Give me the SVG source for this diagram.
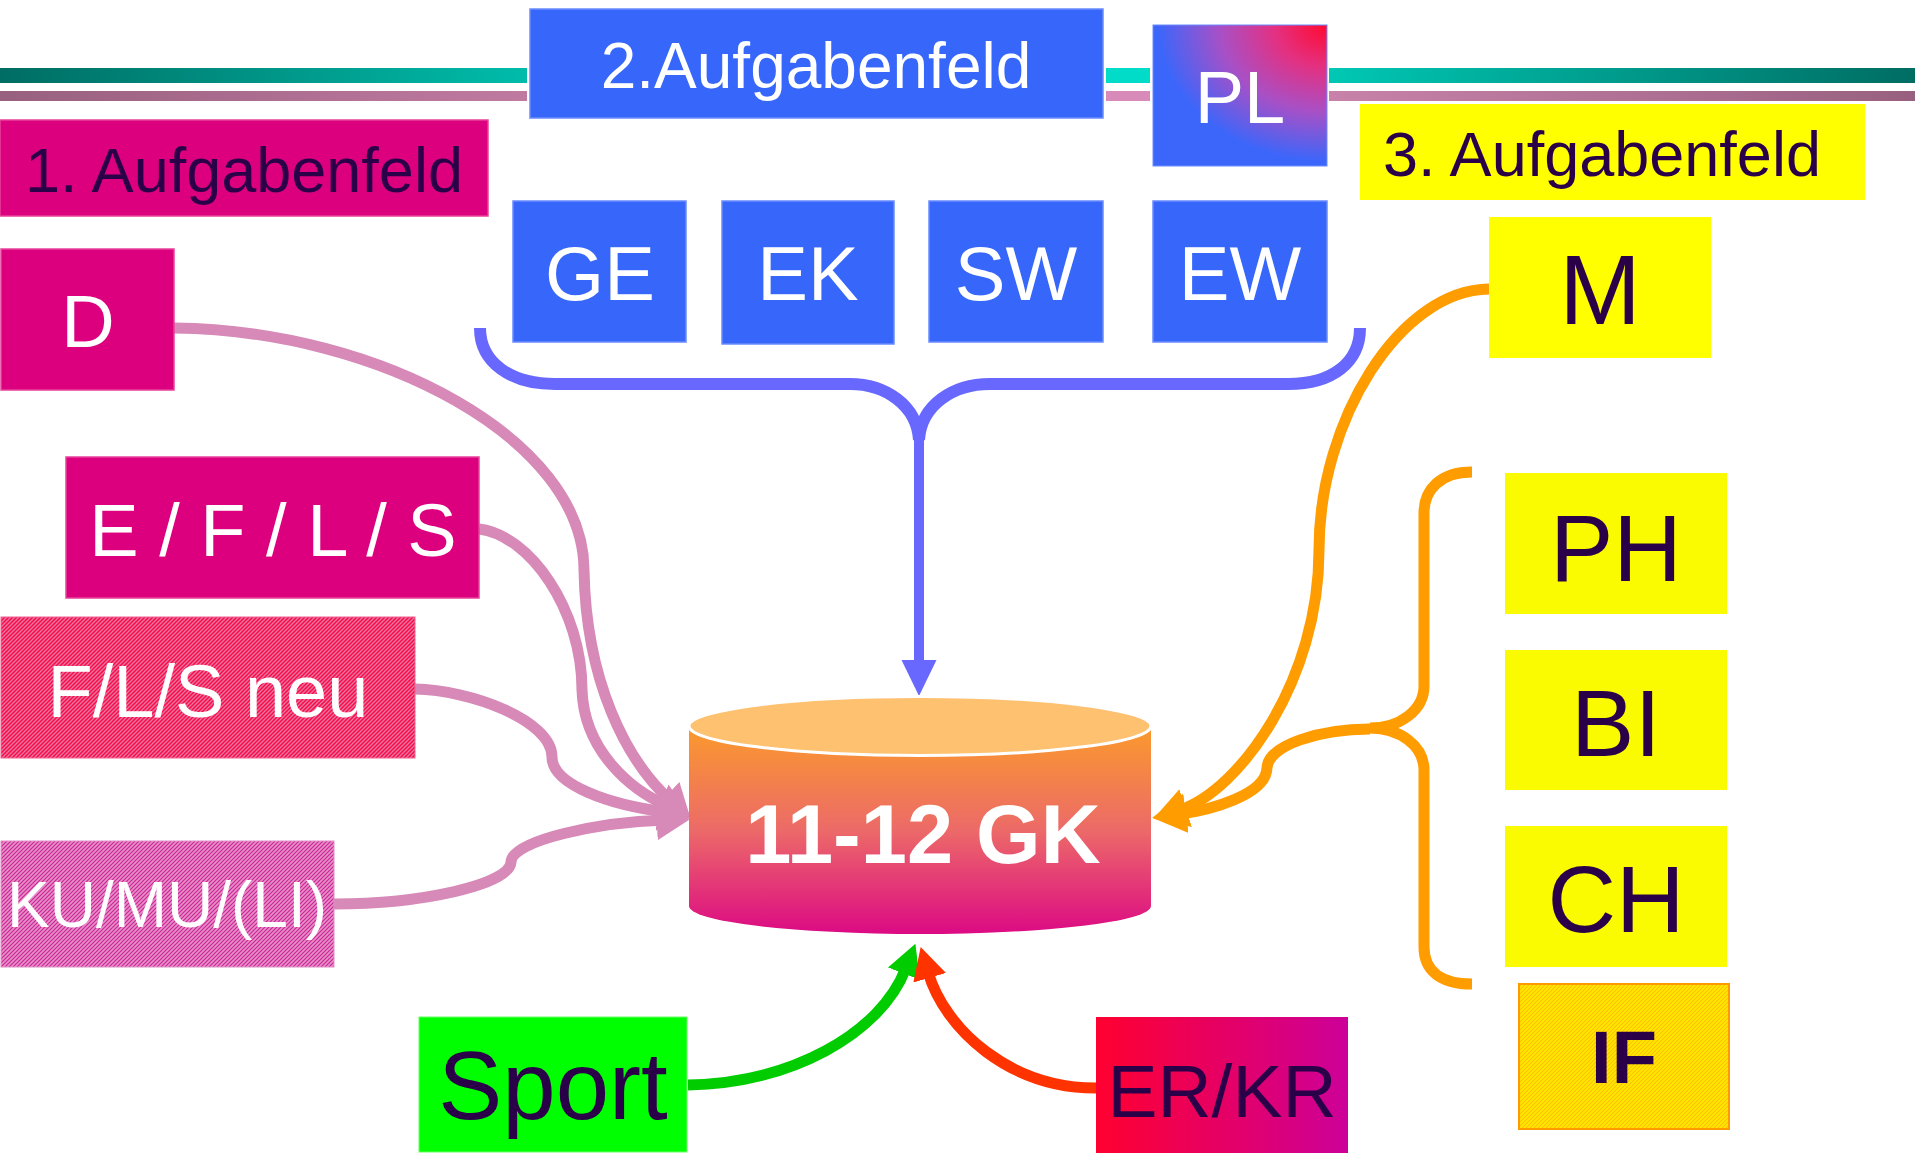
<svg xmlns="http://www.w3.org/2000/svg" width="1915" height="1153" viewBox="0 0 1915 1153">
<style>
text{font-family:"Liberation Sans",Arial,sans-serif;text-anchor:middle}
.w{fill:#ffffff}
.k{fill:#2a0048}
.blue{fill:#3666fa;stroke:#6a8cff;stroke-width:1.5}
.mag{fill:#dc007e;stroke:#e8409c;stroke-width:1.5}
.yel{fill:#ffff00}
.yel2{fill:#fafa00}
.c{fill:none;stroke-linecap:butt}
.pink{stroke:#d789b7;stroke-width:11}
.bl{stroke:#6868ff;stroke-width:12}
.or{stroke:#ff9c00;stroke-width:11}
</style>
<defs>
<linearGradient id="tealL" x1="0" x2="1"><stop offset="0" stop-color="#006d63"/><stop offset="1" stop-color="#00bcaa"/></linearGradient>
<linearGradient id="tealR" x1="0" x2="1"><stop offset="0" stop-color="#00c8b4"/><stop offset="1" stop-color="#006d63"/></linearGradient>
<linearGradient id="mauL" x1="0" x2="1"><stop offset="0" stop-color="#98607f"/><stop offset="1" stop-color="#c07aa0"/></linearGradient>
<linearGradient id="mauR" x1="0" x2="1"><stop offset="0" stop-color="#c882aa"/><stop offset="1" stop-color="#98607f"/></linearGradient>
<radialGradient id="plg" cx="1" cy="0" r="1.1"><stop offset="0" stop-color="#ff0a30"/><stop offset="0.27" stop-color="#e43080"/><stop offset="0.56" stop-color="#a850c6"/><stop offset="0.88" stop-color="#3c66fa"/></radialGradient>
<linearGradient id="cyl" x1="0" y1="0" x2="0" y2="1"><stop offset="0" stop-color="#fb9a2c"/><stop offset="0.5" stop-color="#ec6a68"/><stop offset="1" stop-color="#dc0a84"/></linearGradient>
<linearGradient id="erk" x1="0" x2="1"><stop offset="0" stop-color="#ff0030"/><stop offset="1" stop-color="#cc0099"/></linearGradient>
<pattern id="hRed" patternUnits="userSpaceOnUse" width="4" height="4"><rect width="4" height="4" fill="#ff0a44"/><path d="M-1,1 L1,-1 M0,4 L4,0 M3,5 L5,3" stroke="#e27aa8" stroke-width="1.3"/></pattern>
<pattern id="hPink" patternUnits="userSpaceOnUse" width="4" height="4"><rect width="4" height="4" fill="#e690c8"/><path d="M-1,1 L1,-1 M0,4 L4,0 M3,5 L5,3" stroke="#cc2496" stroke-width="1.2"/></pattern>
<pattern id="hYel" patternUnits="userSpaceOnUse" width="4" height="4"><rect width="4" height="4" fill="#ffb400"/><path d="M-1,1 L1,-1 M0,4 L4,0 M3,5 L5,3" stroke="#ffe800" stroke-width="2"/></pattern>
<marker id="mP" markerUnits="userSpaceOnUse" markerWidth="40" markerHeight="44" viewBox="0 0 40 44" refX="8" refY="22" orient="auto"><path d="M0,2 L33,22 L0,42 Z" fill="#d789b7"/></marker>
<marker id="mB" markerUnits="userSpaceOnUse" markerWidth="40" markerHeight="40" viewBox="0 0 40 40" refX="6" refY="18" orient="auto"><path d="M0,0.5 L36,18 L0,35.5 Z" fill="#6868ff"/></marker>
<marker id="mO" markerUnits="userSpaceOnUse" markerWidth="40" markerHeight="44" viewBox="0 0 40 44" refX="6" refY="20" orient="auto"><path d="M0,0 L34,20 L0,40 Z" fill="#ff9c00"/></marker>
<marker id="mG" markerUnits="userSpaceOnUse" markerWidth="40" markerHeight="40" viewBox="0 0 40 40" refX="6" refY="18" orient="auto"><path d="M0,1 L32,18 L0,35 Z" fill="#00cc00"/></marker>
<marker id="mR" markerUnits="userSpaceOnUse" markerWidth="40" markerHeight="40" viewBox="0 0 40 40" refX="6" refY="18" orient="auto"><path d="M0,1 L32,18 L0,35 Z" fill="#ff3300"/></marker>
</defs>
<rect width="1915" height="1153" fill="#ffffff"/>
<g id="header-lines">
<rect x="0" y="68" width="527" height="15" fill="url(#tealL)"/>
<rect x="0" y="91" width="527" height="10" fill="url(#mauL)"/>
<rect x="1106" y="68" width="44" height="15" fill="#00dcc8"/>
<rect x="1106" y="91" width="44" height="10" fill="#d88ab8"/>
<rect x="1329" y="68" width="586" height="15" fill="url(#tealR)"/>
<rect x="1329" y="91" width="586" height="10" fill="url(#mauR)"/>
</g>
<g id="connectors">
<path class="c pink" d="M174,328 C380,330 584,440 584,570 C586,680 625,760 672,802" marker-end="url(#mP)"/>
<path class="c pink" d="M479,529 C530,535 582,610 582,690 C584,750 630,790 668,806" marker-end="url(#mP)"/>
<path class="c pink" d="M415,689 C470,690 552,720 552,757 C552,785 610,805 666,812" marker-end="url(#mP)"/>
<path class="c pink" d="M334,904 C420,904 510,885 511,862 C512,840 600,822 665,820" marker-end="url(#mP)"/>
<path class="c bl" d="M480,328 C480,362 510,384 555,384 L850,384 C885,384 917,405 919,440 C921,405 953,384 990,384 L1288,384 C1333,384 1360,362 1360,328"/>
<path class="c" stroke="#6868ff" stroke-width="10" d="M919,440 L919,666" marker-end="url(#mB)"/>
<path class="c or" d="M1472,472 C1440,472 1424,490 1424,513 L1424,686 C1424,710 1400,728 1370,728 C1400,728 1424,746 1424,770 L1424,947 C1424,970 1440,984 1472,984"/>
<path class="c or" d="M1489,289 C1400,290 1319,420 1319,550 C1319,680 1240,790 1180,810" marker-end="url(#mO)"/>
<path class="c or" d="M1370,729 C1320,729 1268,745 1267,768 C1266,795 1210,810 1180,814" marker-end="url(#mO)"/>
<path class="c" stroke="#00cc00" stroke-width="11" d="M688,1085 C790,1083 880,1035 906,968" marker-end="url(#mG)"/>
<path class="c" stroke="#ff3300" stroke-width="11" d="M1096,1088 C1010,1088 945,1030 928,972" marker-end="url(#mR)"/>
</g>
<g id="node-aufgabenfeld2"><rect class="blue" x="530" y="9" width="573" height="109"/><text class="w" x="816" y="88" font-size="64">2.Aufgabenfeld</text></g>
<g id="node-pl"><rect x="1153" y="25" width="174" height="141" fill="url(#plg)" stroke="#6a8cff" stroke-width="1"/><text class="w" x="1240" y="123" font-size="74">PL</text></g>
<g id="node-aufgabenfeld1"><rect class="mag" x="0" y="120" width="488" height="96"/><text class="k" x="244" y="192" font-size="63">1. Aufgabenfeld</text></g>
<g id="node-aufgabenfeld3"><rect class="yel" x="1360" y="104" width="505" height="96"/><text class="k" x="1602" y="176" font-size="63">3. Aufgabenfeld</text></g>
<g id="node-d"><rect class="mag" x="1" y="249" width="173" height="141"/><text class="w" x="88" y="347" font-size="74">D</text></g>
<g id="node-ge"><rect class="blue" x="513" y="201" width="173" height="141"/><text class="w" x="600" y="300" font-size="76">GE</text></g>
<g id="node-ek"><rect class="blue" x="722" y="201" width="172" height="143"/><text class="w" x="808" y="300" font-size="76">EK</text></g>
<g id="node-sw"><rect class="blue" x="929" y="201" width="174" height="141"/><text class="w" x="1016" y="300" font-size="76">SW</text></g>
<g id="node-ew"><rect class="blue" x="1153" y="201" width="174" height="141"/><text class="w" x="1240" y="300" font-size="76">EW</text></g>
<g id="node-m"><rect class="yel" x="1489" y="217" width="222" height="141"/><text class="k" x="1600" y="324" font-size="98">M</text></g>
<g id="node-efls"><rect class="mag" x="66" y="457" width="413" height="141"/><text class="w" x="273" y="556" font-size="74">E / F / L / S</text></g>
<g id="node-flsneu"><rect x="1" y="617" width="414" height="141" fill="url(#hRed)" stroke="#f06090" stroke-width="1"/><text class="w" x="208" y="717" font-size="74">F/L/S neu</text></g>
<g id="node-kumu"><rect x="1" y="841" width="333" height="126" fill="url(#hPink)" stroke="#e090c8" stroke-width="1"/><text class="w" x="167" y="927" font-size="64">KU/MU/(LI)</text></g>
<g id="node-ph"><rect class="yel2" x="1505" y="473" width="222" height="141"/><text class="k" x="1616" y="581" font-size="95">PH</text></g>
<g id="node-bi"><rect class="yel2" x="1505" y="650" width="222" height="140"/><text class="k" x="1616" y="756" font-size="95">BI</text></g>
<g id="node-ch"><rect class="yel2" x="1505" y="826" width="222" height="141"/><text class="k" x="1616" y="932" font-size="95">CH</text></g>
<g id="node-if"><rect x="1519" y="984" width="210" height="145" fill="url(#hYel)" stroke="#ff9900" stroke-width="2"/><text class="k" x="1624" y="1083" font-size="74" font-weight="bold">IF</text></g>
<g id="node-gk">
<path d="M689,726 L689,906 A231,28 0 0 0 1151,906 L1151,726 Z" fill="url(#cyl)"/>
<ellipse cx="920" cy="726" rx="231" ry="29.5" fill="#fdc170" stroke="#ffffff" stroke-width="3"/>
<text class="w" x="923" y="863" font-size="83" font-weight="bold">11-12 GK</text>
</g>
<g id="node-sport"><rect x="419" y="1017" width="268" height="135" fill="#00ff00" stroke="#66ff66" stroke-width="1"/><text class="k" x="553" y="1119" font-size="96">Sport</text></g>
<g id="node-erkr"><rect x="1096" y="1017" width="252" height="136" fill="url(#erk)"/><text class="k" x="1222" y="1117" font-size="75">ER/KR</text></g>
</svg>
